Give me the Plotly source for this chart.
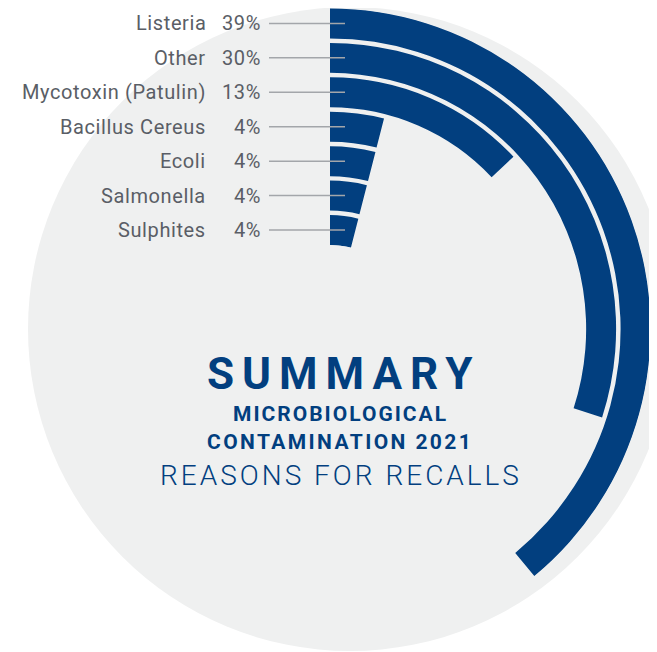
import plotly.graph_objects as go

# data (top to bottom as listed on the left)
reasons = ["Listeria", "Other", "Mycotoxin (Patulin)", "Bacillus Cereus",
           "Ecoli", "Salmonella", "Sulphites"]
shares = [39, 30, 13, 4, 4, 4, 4]

title_main = "SUMMARY"
title_sub = ["MICROBIOLOGICAL", "CONTAMINATION 2021"]
title_foot = "REASONS FOR RECALLS"

W, H = 657, 652
OFF = 8                # page body margin, the figure starts at (8, 8) on screen
NAVY = "#023f7f"
GREY_BG = "#eff0f0"
LABEL = "#5a5e66"
LEADER = "#a3a6aa"

# geometry in screen pixels (from top-left)
CX, CY = 330, 329      # centre of the rings
R = 321                # outer radius of the polar area
HOLE = 84              # inner empty radius
PITCH = 34.43          # distance between rings
R_MAX = (R - HOLE) / PITCH
BAR = 0.87             # ring thickness in radial units

n = len(reasons)
ring = [n - 1 - k for k in range(n)]


def px(x):
    return (x - OFF) / W


def py(y):
    return 1 - (y - OFF) / H


def spaced(text, sp):
    return "<span style='letter-spacing:%spx'>%s</span>" % (sp, text)


fig = go.Figure()
fig.add_trace(go.Barpolar(
    r=[BAR] * n, base=ring,
    theta=[s * 3.6 / 2 for s in shares], width=[s * 3.6 for s in shares],
    marker=dict(color=NAVY, line=dict(width=0)),
    hoverinfo="skip", showlegend=False))

shapes = [dict(type="circle", xref="paper", yref="paper", layer="below",
               x0=px(350 - 322), x1=px(350 + 322), y0=py(329 + 322), y1=py(329 - 322),
               fillcolor=GREY_BG, line=dict(width=0))]
annotations = []
for k, name in enumerate(reasons):
    y = CY - (HOLE + (ring[k] + BAR / 2) * PITCH)
    shapes.append(dict(type="line", xref="paper", yref="paper", layer="above",
                       x0=px(269), x1=px(345), y0=py(y), y1=py(y),
                       line=dict(color=LEADER, width=1.5)))
    annotations.append(dict(x=px(208), y=py(y), xref="paper", yref="paper",
                            xanchor="right", yanchor="middle", showarrow=False,
                            text=spaced(name, 0.6),
                            font=dict(family="Roboto", size=20, color=LABEL)))
    annotations.append(dict(x=px(263), y=py(y), xref="paper", yref="paper",
                            xanchor="right", yanchor="middle", showarrow=False,
                            text=spaced("%d%%" % shares[k], 0.6),
                            font=dict(family="Roboto", size=20, color=LABEL)))

annotations.append(dict(x=px(344), y=py(374), xref="paper", yref="paper",
                        xanchor="center", yanchor="middle", showarrow=False,
                        text=spaced(title_main, 8),
                        font=dict(family="Roboto", size=44, color=NAVY, weight=700)))
for text, yy, sp in zip(title_sub, [414, 442], [2, 2.4]):
    annotations.append(dict(x=px(340), y=py(yy), xref="paper", yref="paper",
                            xanchor="center", yanchor="middle", showarrow=False,
                            text=spaced(text, sp),
                            font=dict(family="Roboto", size=21, color=NAVY, weight=700)))
annotations.append(dict(x=px(341), y=py(475), xref="paper", yref="paper",
                        xanchor="center", yanchor="middle", showarrow=False,
                        text=spaced(title_foot, 3),
                        font=dict(family="Roboto", size=28, color=NAVY, weight=300)))

fig.update_layout(
    width=W, height=H, autosize=False,
    margin=dict(l=0, r=0, t=0, b=0),
    paper_bgcolor="white", plot_bgcolor="white",
    showlegend=False,
    shapes=shapes, annotations=annotations,
    polar=dict(
        domain=dict(x=[px(CX - R), px(CX + R)], y=[py(CY + R), py(CY - R)]),
        bgcolor="rgba(0,0,0,0)",
        hole=HOLE / R,
        radialaxis=dict(visible=False, range=[0, R_MAX]),
        angularaxis=dict(visible=False, rotation=90, direction="clockwise"),
    ),
)

fig.write_html("out.html", config=dict(displayModeBar=False))
